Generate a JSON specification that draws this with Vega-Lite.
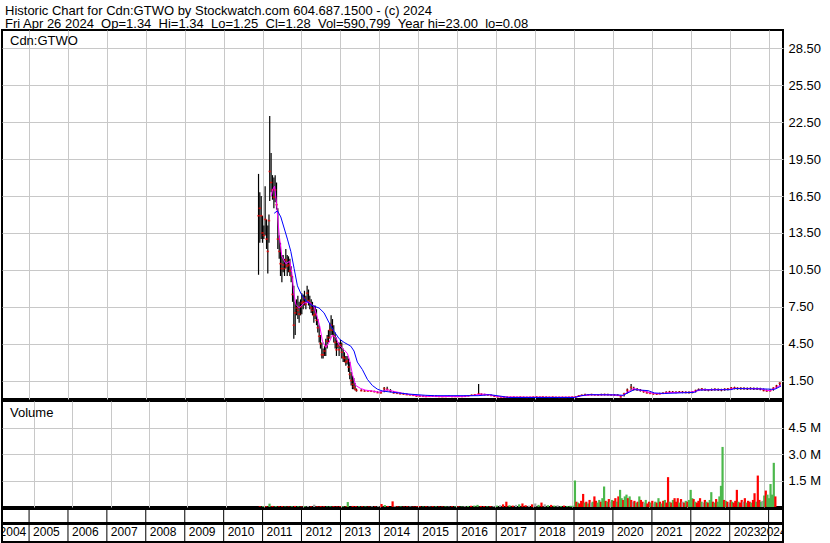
{
  "$schema": "https://vega.github.io/schema/vega-lite/v6.json",
  "padding": {"left": 0, "top": 4, "right": 0, "bottom": 0},
  "background": "white",
  "title": {
    "text": ["Historic Chart for Cdn:GTWO by Stockwatch.com 604.687.1500 - (c) 2024", "Fri Apr 26 2024 \u00a0Op=1.34 \u00a0Hi=1.34 \u00a0Lo=1.25 \u00a0Cl=1.28 \u00a0Vol=590,799 \u00a0Year hi=23.00 \u00a0lo=0.08"],
    "anchor": "start", "fontSize": 13, "fontWeight": "normal", "font": "Liberation Sans", "color": "black",
    "offset": -2, "dx": 3, "lineHeight": 13.5, "baseline": "top", "frame": "group"
  },
  "datasets": {
    "px": [
      {"d":"2010-11-24","h":18.3,"l":10.1,"c":14.9},
      {"d":"2010-12-06","h":16.8,"l":12.7,"c":15.5},
      {"d":"2010-12-19","h":16.5,"l":13.0,"c":14.9},
      {"d":"2010-12-31","h":14.9,"l":12.7,"c":13.5},
      {"d":"2011-01-13","h":14.1,"l":13.0,"c":13.3},
      {"d":"2011-01-25","h":17.3,"l":13.3,"c":14.6},
      {"d":"2011-02-07","h":14.6,"l":12.2,"c":13.0},
      {"d":"2011-02-19","h":14.1,"l":10.2,"c":12.0},
      {"d":"2011-03-02","h":15.0,"l":12.7,"c":14.5},
      {"d":"2011-03-09","h":23.0,"l":16.1,"c":18.5},
      {"d":"2011-03-22","h":20.0,"l":16.8,"c":17.6},
      {"d":"2011-04-04","h":18.2,"l":16.2,"c":17.0},
      {"d":"2011-04-17","h":18.0,"l":15.5,"c":16.4},
      {"d":"2011-04-29","h":18.2,"l":16.0,"c":17.0},
      {"d":"2011-05-12","h":17.6,"l":15.4,"c":15.8},
      {"d":"2011-05-24","h":15.5,"l":12.2,"c":13.0},
      {"d":"2011-06-06","h":13.3,"l":11.4,"c":12.0},
      {"d":"2011-06-18","h":12.7,"l":10.0,"c":11.0},
      {"d":"2011-07-01","h":11.7,"l":9.5,"c":10.6},
      {"d":"2011-07-13","h":11.7,"l":10.3,"c":10.9},
      {"d":"2011-07-26","h":11.4,"l":10.0,"c":10.6},
      {"d":"2011-08-07","h":12.2,"l":10.6,"c":11.3},
      {"d":"2011-08-20","h":11.7,"l":10.0,"c":10.8},
      {"d":"2011-09-01","h":11.6,"l":10.3,"c":10.9},
      {"d":"2011-09-14","h":11.4,"l":10.0,"c":10.4},
      {"d":"2011-09-26","h":10.8,"l":9.5,"c":10.0},
      {"d":"2011-10-09","h":10.0,"l":7.9,"c":8.5},
      {"d":"2011-10-21","h":9.2,"l":4.9,"c":6.0},
      {"d":"2011-11-03","h":7.9,"l":5.2,"c":7.0},
      {"d":"2011-11-15","h":8.1,"l":6.8,"c":7.4},
      {"d":"2011-11-28","h":8.4,"l":6.5,"c":7.2},
      {"d":"2011-12-10","h":7.9,"l":6.2,"c":6.9},
      {"d":"2011-12-23","h":8.1,"l":6.8,"c":7.5},
      {"d":"2012-01-04","h":8.6,"l":6.9,"c":7.8},
      {"d":"2012-01-17","h":8.5,"l":7.3,"c":7.9},
      {"d":"2012-01-29","h":8.8,"l":7.6,"c":8.2},
      {"d":"2012-02-11","h":8.4,"l":7.3,"c":7.7},
      {"d":"2012-02-23","h":9.2,"l":7.9,"c":8.6},
      {"d":"2012-03-07","h":8.9,"l":7.6,"c":8.0},
      {"d":"2012-03-19","h":8.4,"l":7.3,"c":7.8},
      {"d":"2012-04-01","h":8.1,"l":7.0,"c":7.4},
      {"d":"2012-04-13","h":7.9,"l":6.8,"c":7.2},
      {"d":"2012-04-26","h":7.6,"l":6.2,"c":6.8},
      {"d":"2012-05-08","h":7.6,"l":6.5,"c":6.9},
      {"d":"2012-05-21","h":7.3,"l":6.0,"c":6.4},
      {"d":"2012-06-02","h":6.5,"l":5.4,"c":5.8},
      {"d":"2012-06-15","h":6.0,"l":4.6,"c":5.1},
      {"d":"2012-06-27","h":5.2,"l":4.1,"c":4.5},
      {"d":"2012-07-10","h":4.6,"l":3.3,"c":3.6},
      {"d":"2012-07-22","h":4.1,"l":3.3,"c":3.6},
      {"d":"2012-08-04","h":4.3,"l":3.5,"c":3.9},
      {"d":"2012-08-16","h":4.9,"l":3.5,"c":4.3},
      {"d":"2012-08-29","h":5.2,"l":4.1,"c":4.7},
      {"d":"2012-09-10","h":5.6,"l":4.6,"c":5.0},
      {"d":"2012-09-23","h":6.2,"l":4.9,"c":5.6},
      {"d":"2012-10-05","h":6.8,"l":5.2,"c":6.0},
      {"d":"2012-10-18","h":6.5,"l":5.2,"c":5.6},
      {"d":"2012-10-30","h":6.0,"l":4.6,"c":5.1},
      {"d":"2012-11-12","h":5.4,"l":4.1,"c":4.6},
      {"d":"2012-11-24","h":5.0,"l":3.5,"c":4.0},
      {"d":"2012-12-07","h":4.6,"l":4.1,"c":4.3},
      {"d":"2012-12-19","h":4.6,"l":3.5,"c":4.0},
      {"d":"2013-01-01","h":4.8,"l":4.1,"c":4.4},
      {"d":"2013-01-13","h":4.6,"l":3.3,"c":3.8},
      {"d":"2013-01-26","h":4.1,"l":3.0,"c":3.4},
      {"d":"2013-02-07","h":3.8,"l":3.0,"c":3.3},
      {"d":"2013-02-20","h":3.5,"l":2.7,"c":3.0},
      {"d":"2013-03-04","h":3.5,"l":2.8,"c":3.1},
      {"d":"2013-03-17","h":3.3,"l":2.2,"c":2.6},
      {"d":"2013-03-29","h":3.0,"l":1.6,"c":2.0},
      {"d":"2013-04-11","h":2.2,"l":1.1,"c":1.5},
      {"d":"2013-04-23","h":1.9,"l":0.8,"c":1.2},
      {"d":"2013-05-06","h":1.7,"l":0.8,"c":1.0},
      {"d":"2013-05-18","h":1.3,"l":0.7,"c":0.8},
      {"d":"2013-05-31","h":0.85,"l":0.6,"c":0.7},
      {"d":"2013-07-15","h":0.8,"l":0.62,"c":0.68},
      {"d":"2013-08-15","h":0.72,"l":0.6,"c":0.65},
      {"d":"2013-09-15","h":0.7,"l":0.6,"c":0.64},
      {"d":"2013-10-15","h":0.7,"l":0.58,"c":0.63},
      {"d":"2013-11-15","h":0.68,"l":0.55,"c":0.6},
      {"d":"2013-12-15","h":0.62,"l":0.48,"c":0.52},
      {"d":"2014-01-15","h":0.6,"l":0.45,"c":0.5},
      {"d":"2014-02-15","h":0.98,"l":0.55,"c":0.85},
      {"d":"2014-03-15","h":1.0,"l":0.7,"c":0.78},
      {"d":"2014-04-15","h":0.8,"l":0.55,"c":0.62},
      {"d":"2014-05-15","h":0.65,"l":0.45,"c":0.5},
      {"d":"2014-06-15","h":0.55,"l":0.42,"c":0.46},
      {"d":"2014-07-15","h":0.52,"l":0.38,"c":0.42},
      {"d":"2014-08-15","h":0.5,"l":0.36,"c":0.4},
      {"d":"2014-09-15","h":0.45,"l":0.32,"c":0.35},
      {"d":"2014-10-15","h":0.4,"l":0.3,"c":0.33},
      {"d":"2014-11-15","h":0.38,"l":0.26,"c":0.3},
      {"d":"2014-12-15","h":0.35,"l":0.2,"c":0.24},
      {"d":"2015-01-15","h":0.3,"l":0.2,"c":0.24},
      {"d":"2015-02-15","h":0.28,"l":0.18,"c":0.22},
      {"d":"2015-03-15","h":0.26,"l":0.18,"c":0.2},
      {"d":"2015-04-15","h":0.28,"l":0.2,"c":0.22},
      {"d":"2015-05-15","h":0.3,"l":0.2,"c":0.24},
      {"d":"2015-06-15","h":0.28,"l":0.18,"c":0.22},
      {"d":"2015-07-15","h":0.25,"l":0.17,"c":0.2},
      {"d":"2015-08-15","h":0.24,"l":0.16,"c":0.19},
      {"d":"2015-09-15","h":0.25,"l":0.17,"c":0.2},
      {"d":"2015-10-15","h":0.27,"l":0.18,"c":0.22},
      {"d":"2015-11-15","h":0.25,"l":0.17,"c":0.2},
      {"d":"2015-12-15","h":0.25,"l":0.17,"c":0.2},
      {"d":"2016-01-15","h":0.24,"l":0.17,"c":0.21},
      {"d":"2016-02-15","h":0.24,"l":0.17,"c":0.2},
      {"d":"2016-03-15","h":0.27,"l":0.19,"c":0.22},
      {"d":"2016-04-15","h":0.3,"l":0.22,"c":0.26},
      {"d":"2016-05-15","h":0.36,"l":0.26,"c":0.3},
      {"d":"2016-06-15","h":0.4,"l":0.3,"c":0.34},
      {"d":"2016-07-20","h":1.22,"l":0.32,"c":0.42},
      {"d":"2016-08-15","h":0.45,"l":0.33,"c":0.38},
      {"d":"2016-09-15","h":0.42,"l":0.3,"c":0.35},
      {"d":"2016-10-15","h":0.4,"l":0.28,"c":0.33},
      {"d":"2016-11-15","h":0.36,"l":0.24,"c":0.28},
      {"d":"2016-12-15","h":0.3,"l":0.18,"c":0.22},
      {"d":"2017-01-15","h":0.25,"l":0.14,"c":0.18},
      {"d":"2017-02-15","h":0.22,"l":0.12,"c":0.16},
      {"d":"2017-03-15","h":0.2,"l":0.11,"c":0.15},
      {"d":"2017-04-15","h":0.2,"l":0.1,"c":0.14},
      {"d":"2017-05-15","h":0.19,"l":0.1,"c":0.14},
      {"d":"2017-06-15","h":0.2,"l":0.11,"c":0.15},
      {"d":"2017-07-15","h":0.19,"l":0.1,"c":0.14},
      {"d":"2017-08-15","h":0.2,"l":0.1,"c":0.15},
      {"d":"2017-09-15","h":0.19,"l":0.1,"c":0.14},
      {"d":"2017-10-15","h":0.18,"l":0.09,"c":0.13},
      {"d":"2017-11-15","h":0.19,"l":0.1,"c":0.14},
      {"d":"2017-12-15","h":0.2,"l":0.1,"c":0.15},
      {"d":"2018-01-15","h":0.22,"l":0.11,"c":0.16},
      {"d":"2018-02-15","h":0.2,"l":0.1,"c":0.15},
      {"d":"2018-03-15","h":0.22,"l":0.11,"c":0.16},
      {"d":"2018-04-15","h":0.2,"l":0.1,"c":0.15},
      {"d":"2018-05-15","h":0.19,"l":0.1,"c":0.14},
      {"d":"2018-06-15","h":0.2,"l":0.1,"c":0.15},
      {"d":"2018-07-15","h":0.19,"l":0.09,"c":0.14},
      {"d":"2018-08-15","h":0.18,"l":0.09,"c":0.13},
      {"d":"2018-09-15","h":0.19,"l":0.08,"c":0.13},
      {"d":"2018-10-15","h":0.18,"l":0.08,"c":0.13},
      {"d":"2018-11-15","h":0.19,"l":0.09,"c":0.14},
      {"d":"2018-12-15","h":0.2,"l":0.1,"c":0.15},
      {"d":"2019-01-15","h":0.22,"l":0.12,"c":0.18},
      {"d":"2019-02-15","h":0.3,"l":0.18,"c":0.26},
      {"d":"2019-03-15","h":0.36,"l":0.24,"c":0.3},
      {"d":"2019-04-15","h":0.42,"l":0.28,"c":0.35},
      {"d":"2019-05-15","h":0.4,"l":0.28,"c":0.34},
      {"d":"2019-06-15","h":0.42,"l":0.29,"c":0.36},
      {"d":"2019-07-15","h":0.41,"l":0.28,"c":0.34},
      {"d":"2019-08-15","h":0.4,"l":0.27,"c":0.33},
      {"d":"2019-09-15","h":0.42,"l":0.28,"c":0.35},
      {"d":"2019-10-15","h":0.43,"l":0.29,"c":0.36},
      {"d":"2019-11-15","h":0.42,"l":0.28,"c":0.35},
      {"d":"2019-12-15","h":0.4,"l":0.27,"c":0.34},
      {"d":"2020-01-15","h":0.4,"l":0.27,"c":0.33},
      {"d":"2020-02-15","h":0.38,"l":0.24,"c":0.3},
      {"d":"2020-03-15","h":0.3,"l":0.12,"c":0.18},
      {"d":"2020-04-15","h":0.5,"l":0.2,"c":0.42},
      {"d":"2020-05-15","h":0.85,"l":0.45,"c":0.72},
      {"d":"2020-06-20","h":1.22,"l":0.7,"c":0.95},
      {"d":"2020-07-15","h":1.0,"l":0.7,"c":0.82},
      {"d":"2020-08-15","h":0.9,"l":0.68,"c":0.76},
      {"d":"2020-09-15","h":0.82,"l":0.6,"c":0.7},
      {"d":"2020-10-15","h":0.72,"l":0.52,"c":0.6},
      {"d":"2020-11-15","h":0.62,"l":0.45,"c":0.5},
      {"d":"2020-12-15","h":0.55,"l":0.4,"c":0.45},
      {"d":"2021-01-15","h":0.5,"l":0.36,"c":0.42},
      {"d":"2021-02-15","h":0.48,"l":0.35,"c":0.4},
      {"d":"2021-03-15","h":0.5,"l":0.38,"c":0.42},
      {"d":"2021-04-15","h":0.55,"l":0.4,"c":0.46},
      {"d":"2021-05-15","h":0.62,"l":0.45,"c":0.52},
      {"d":"2021-06-15","h":0.66,"l":0.48,"c":0.56},
      {"d":"2021-07-15","h":0.65,"l":0.48,"c":0.55},
      {"d":"2021-08-15","h":0.64,"l":0.46,"c":0.54},
      {"d":"2021-09-15","h":0.66,"l":0.48,"c":0.56},
      {"d":"2021-10-15","h":0.65,"l":0.47,"c":0.55},
      {"d":"2021-11-15","h":0.64,"l":0.46,"c":0.53},
      {"d":"2021-12-15","h":0.62,"l":0.45,"c":0.52},
      {"d":"2022-01-15","h":0.63,"l":0.46,"c":0.54},
      {"d":"2022-02-15","h":0.75,"l":0.52,"c":0.68},
      {"d":"2022-03-15","h":0.85,"l":0.65,"c":0.76},
      {"d":"2022-04-15","h":0.9,"l":0.68,"c":0.8},
      {"d":"2022-05-15","h":0.85,"l":0.66,"c":0.74},
      {"d":"2022-06-15","h":0.82,"l":0.64,"c":0.72},
      {"d":"2022-07-15","h":0.85,"l":0.66,"c":0.75},
      {"d":"2022-08-15","h":0.88,"l":0.68,"c":0.78},
      {"d":"2022-09-15","h":0.86,"l":0.66,"c":0.76},
      {"d":"2022-10-15","h":0.84,"l":0.64,"c":0.74},
      {"d":"2022-11-15","h":0.88,"l":0.68,"c":0.78},
      {"d":"2022-12-15","h":0.9,"l":0.7,"c":0.8},
      {"d":"2023-01-15","h":0.98,"l":0.76,"c":0.88},
      {"d":"2023-02-15","h":1.0,"l":0.78,"c":0.9},
      {"d":"2023-03-15","h":0.95,"l":0.76,"c":0.86},
      {"d":"2023-04-15","h":0.96,"l":0.76,"c":0.86},
      {"d":"2023-05-15","h":0.95,"l":0.75,"c":0.85},
      {"d":"2023-06-15","h":0.94,"l":0.74,"c":0.84},
      {"d":"2023-07-15","h":0.95,"l":0.76,"c":0.85},
      {"d":"2023-08-15","h":0.94,"l":0.74,"c":0.84},
      {"d":"2023-09-15","h":0.93,"l":0.74,"c":0.83},
      {"d":"2023-10-15","h":0.92,"l":0.72,"c":0.82},
      {"d":"2023-11-15","h":0.85,"l":0.62,"c":0.7},
      {"d":"2023-12-15","h":0.78,"l":0.58,"c":0.66},
      {"d":"2024-01-15","h":0.8,"l":0.6,"c":0.68},
      {"d":"2024-02-15","h":0.95,"l":0.68,"c":0.88},
      {"d":"2024-03-15","h":1.15,"l":0.85,"c":1.05},
      {"d":"2024-04-15","h":1.36,"l":1.05,"c":1.28}
    ],
    "ma": [
      {"d":"2011-03-25","s":"m","v":16.5},
      {"d":"2011-04-04","s":"m","v":17.0},
      {"d":"2011-04-23","s":"m","v":17.3},
      {"d":"2011-05-11","s":"m","v":16.0},
      {"d":"2011-06-06","s":"m","v":13.3},
      {"d":"2011-07-01","s":"m","v":11.6},
      {"d":"2011-08-07","s":"m","v":11.0},
      {"d":"2011-09-13","s":"m","v":11.2},
      {"d":"2011-10-02","s":"m","v":10.3},
      {"d":"2011-10-21","s":"m","v":8.6},
      {"d":"2011-11-09","s":"m","v":7.7},
      {"d":"2011-12-10","s":"m","v":7.4},
      {"d":"2012-01-26","s":"m","v":7.8},
      {"d":"2012-03-13","s":"m","v":7.9},
      {"d":"2012-04-28","s":"m","v":7.5},
      {"d":"2012-05-30","s":"m","v":6.6},
      {"d":"2012-06-21","s":"m","v":5.9},
      {"d":"2012-07-16","s":"m","v":4.7},
      {"d":"2012-08-16","s":"m","v":4.2},
      {"d":"2012-09-16","s":"m","v":4.6},
      {"d":"2012-10-17","s":"m","v":5.2},
      {"d":"2012-11-18","s":"m","v":5.0},
      {"d":"2012-12-19","s":"m","v":4.4},
      {"d":"2013-02-04","s":"m","v":4.0},
      {"d":"2013-03-07","s":"m","v":3.7},
      {"d":"2013-03-29","s":"m","v":3.1},
      {"d":"2013-04-23","s":"m","v":2.0},
      {"d":"2013-05-24","s":"m","v":1.1},
      {"d":"2013-07-10","s":"m","v":0.85},
      {"d":"2013-08-25","s":"m","v":0.72},
      {"d":"2013-10-27","s":"m","v":0.65},
      {"d":"2013-12-28","s":"m","v":0.55},
      {"d":"2014-03-16","s":"m","v":0.75},
      {"d":"2014-05-01","s":"m","v":0.65},
      {"d":"2014-09-01","s":"m","v":0.42},
      {"d":"2014-12-01","s":"m","v":0.3},
      {"d":"2015-03-01","s":"m","v":0.22},
      {"d":"2015-06-01","s":"m","v":0.22},
      {"d":"2015-09-01","s":"m","v":0.2},
      {"d":"2015-12-01","s":"m","v":0.21},
      {"d":"2016-03-01","s":"m","v":0.21},
      {"d":"2016-06-01","s":"m","v":0.3},
      {"d":"2016-08-15","s":"m","v":0.4},
      {"d":"2016-10-15","s":"m","v":0.36},
      {"d":"2016-12-15","s":"m","v":0.26},
      {"d":"2017-02-15","s":"m","v":0.17},
      {"d":"2017-08-15","s":"m","v":0.15},
      {"d":"2018-06-15","s":"m","v":0.14},
      {"d":"2019-01-15","s":"m","v":0.15},
      {"d":"2019-03-15","s":"m","v":0.27},
      {"d":"2019-06-15","s":"m","v":0.34},
      {"d":"2019-12-15","s":"m","v":0.34},
      {"d":"2020-02-15","s":"m","v":0.3},
      {"d":"2020-03-25","s":"m","v":0.24},
      {"d":"2020-05-15","s":"m","v":0.55},
      {"d":"2020-07-15","s":"m","v":0.85},
      {"d":"2020-09-15","s":"m","v":0.72},
      {"d":"2020-12-15","s":"m","v":0.5},
      {"d":"2021-03-15","s":"m","v":0.42},
      {"d":"2021-06-15","s":"m","v":0.52},
      {"d":"2021-12-15","s":"m","v":0.54},
      {"d":"2022-02-15","s":"m","v":0.62},
      {"d":"2022-04-15","s":"m","v":0.76},
      {"d":"2022-12-15","s":"m","v":0.77},
      {"d":"2023-02-15","s":"m","v":0.86},
      {"d":"2023-10-15","s":"m","v":0.84},
      {"d":"2023-12-15","s":"m","v":0.7},
      {"d":"2024-01-20","s":"m","v":0.68},
      {"d":"2024-03-15","s":"m","v":0.95},
      {"d":"2024-04-26","s":"m","v":1.15},
      {"d":"2011-04-20","s":"b","v":15.1},
      {"d":"2011-05-21","s":"b","v":15.3},
      {"d":"2011-06-21","s":"b","v":14.8},
      {"d":"2011-07-22","s":"b","v":13.9},
      {"d":"2011-08-22","s":"b","v":13.0},
      {"d":"2011-09-23","s":"b","v":12.0},
      {"d":"2011-10-24","s":"b","v":10.6},
      {"d":"2011-11-24","s":"b","v":9.2},
      {"d":"2011-12-25","s":"b","v":8.6},
      {"d":"2012-02-09","s":"b","v":8.0},
      {"d":"2012-04-12","s":"b","v":7.6},
      {"d":"2012-06-14","s":"b","v":7.4},
      {"d":"2012-07-31","s":"b","v":7.0},
      {"d":"2012-09-16","s":"b","v":6.2},
      {"d":"2012-11-02","s":"b","v":5.5},
      {"d":"2012-12-19","s":"b","v":4.9},
      {"d":"2013-02-04","s":"b","v":4.6},
      {"d":"2013-04-07","s":"b","v":4.3},
      {"d":"2013-05-08","s":"b","v":3.9},
      {"d":"2013-06-08","s":"b","v":3.0},
      {"d":"2013-07-25","s":"b","v":2.4},
      {"d":"2013-09-10","s":"b","v":1.6},
      {"d":"2013-10-27","s":"b","v":1.1},
      {"d":"2013-12-13","s":"b","v":0.8},
      {"d":"2014-01-29","s":"b","v":0.65},
      {"d":"2014-05-01","s":"b","v":0.55},
      {"d":"2014-10-05","s":"b","v":0.4},
      {"d":"2015-03-12","s":"b","v":0.3},
      {"d":"2015-06-01","s":"b","v":0.27},
      {"d":"2016-07-15","s":"b","v":0.27},
      {"d":"2016-11-01","s":"b","v":0.35},
      {"d":"2017-02-20","s":"b","v":0.22},
      {"d":"2017-04-25","s":"b","v":0.12},
      {"d":"2019-01-05","s":"b","v":0.12},
      {"d":"2019-03-10","s":"b","v":0.27},
      {"d":"2019-05-15","s":"b","v":0.35},
      {"d":"2020-02-15","s":"b","v":0.33},
      {"d":"2020-04-05","s":"b","v":0.3},
      {"d":"2020-07-20","s":"b","v":0.76},
      {"d":"2020-11-25","s":"b","v":0.68},
      {"d":"2021-01-25","s":"b","v":0.49},
      {"d":"2021-04-30","s":"b","v":0.45},
      {"d":"2022-02-05","s":"b","v":0.54},
      {"d":"2022-03-08","s":"b","v":0.73},
      {"d":"2023-01-15","s":"b","v":0.76},
      {"d":"2023-02-15","s":"b","v":0.85},
      {"d":"2023-12-20","s":"b","v":0.81},
      {"d":"2024-02-25","s":"b","v":0.78},
      {"d":"2024-04-26","s":"b","v":1.05}
    ],
    "vol": [
      {"d":"2010-11-20","v":40000,"t":"d"},{"d":"2010-12-20","v":50000,"t":"u"},
      {"d":"2011-01-20","v":45000,"t":"d"},{"d":"2011-02-20","v":190000,"t":"u"},
      {"d":"2011-03-20","v":60000,"t":"d"},{"d":"2011-04-20","v":50000,"t":"u"},
      {"d":"2011-05-20","v":40000,"t":"d"},{"d":"2011-06-20","v":50000,"t":"d"},
      {"d":"2011-07-20","v":30000,"t":"u"},{"d":"2011-08-20","v":35000,"t":"d"},
      {"d":"2011-09-20","v":40000,"t":"u"},{"d":"2011-10-20","v":60000,"t":"d"},
      {"d":"2011-11-20","v":40000,"t":"u"},{"d":"2011-12-20","v":35000,"t":"d"},
      {"d":"2012-01-20","v":50000,"t":"u"},{"d":"2012-02-20","v":60000,"t":"n"},
      {"d":"2012-03-20","v":40000,"t":"d"},{"d":"2012-04-20","v":130000,"t":"n"},
      {"d":"2012-05-20","v":40000,"t":"d"},{"d":"2012-06-20","v":50000,"t":"d"},
      {"d":"2012-07-20","v":45000,"t":"d"},{"d":"2012-08-20","v":30000,"t":"u"},
      {"d":"2012-09-20","v":40000,"t":"u"},{"d":"2012-10-20","v":50000,"t":"d"},
      {"d":"2012-11-20","v":35000,"t":"d"},{"d":"2012-12-20","v":40000,"t":"d"},
      {"d":"2013-01-20","v":45000,"t":"u"},{"d":"2013-02-20","v":50000,"t":"d"},
      {"d":"2013-03-05","v":280000,"t":"u"},{"d":"2013-04-20","v":60000,"t":"d"},
      {"d":"2013-05-20","v":50000,"t":"d"},{"d":"2013-06-20","v":40000,"t":"u"},
      {"d":"2013-07-20","v":45000,"t":"d"},{"d":"2013-08-20","v":35000,"t":"u"},
      {"d":"2013-09-20","v":30000,"t":"d"},{"d":"2013-10-20","v":40000,"t":"n"},
      {"d":"2013-11-20","v":35000,"t":"d"},{"d":"2013-12-20","v":60000,"t":"n"},
      {"d":"2014-01-20","v":170000,"t":"d"},{"d":"2014-02-20","v":110000,"t":"u"},
      {"d":"2014-03-20","v":60000,"t":"d"},{"d":"2014-05-05","v":320000,"t":"d"},
      {"d":"2014-05-25","v":60000,"t":"n"},{"d":"2014-06-20","v":40000,"t":"d"},
      {"d":"2014-07-20","v":35000,"t":"u"},{"d":"2014-08-20","v":30000,"t":"d"},
      {"d":"2014-09-20","v":40000,"t":"d"},{"d":"2014-10-20","v":35000,"t":"n"},
      {"d":"2014-11-20","v":30000,"t":"d"},{"d":"2014-12-20","v":45000,"t":"d"},
      {"d":"2015-01-20","v":40000,"t":"d"},{"d":"2015-02-20","v":30000,"t":"u"},
      {"d":"2015-03-20","v":45000,"t":"d"},{"d":"2015-04-20","v":35000,"t":"n"},
      {"d":"2015-05-20","v":50000,"t":"d"},{"d":"2015-06-20","v":40000,"t":"u"},
      {"d":"2015-07-20","v":30000,"t":"d"},{"d":"2015-08-20","v":35000,"t":"d"},
      {"d":"2015-09-20","v":40000,"t":"u"},{"d":"2015-10-20","v":30000,"t":"n"},
      {"d":"2015-11-20","v":45000,"t":"d"},{"d":"2015-12-20","v":35000,"t":"u"},
      {"d":"2016-01-20","v":40000,"t":"d"},{"d":"2016-02-20","v":30000,"t":"u"},
      {"d":"2016-03-20","v":50000,"t":"n"},{"d":"2016-04-20","v":60000,"t":"u"},
      {"d":"2016-05-20","v":70000,"t":"d"},{"d":"2016-06-20","v":80000,"t":"u"},
      {"d":"2016-07-20","v":120000,"t":"u"},{"d":"2016-08-20","v":60000,"t":"d"},
      {"d":"2016-09-20","v":50000,"t":"d"},{"d":"2016-10-20","v":40000,"t":"u"},
      {"d":"2016-11-20","v":50000,"t":"d"},{"d":"2016-12-20","v":60000,"t":"n"},
      {"d":"2017-01-20","v":80000,"t":"u"},{"d":"2017-02-20","v":100000,"t":"n"},
      {"d":"2017-03-20","v":150000,"t":"d"},{"d":"2017-04-20","v":300000,"t":"d"},
      {"d":"2017-05-20","v":100000,"t":"u"},{"d":"2017-06-20","v":80000,"t":"d"},
      {"d":"2017-07-20","v":120000,"t":"n"},{"d":"2017-08-20","v":150000,"t":"u"},
      {"d":"2017-09-20","v":200000,"t":"d"},{"d":"2017-10-20","v":100000,"t":"d"},
      {"d":"2017-11-20","v":80000,"t":"n"},{"d":"2017-12-20","v":150000,"t":"d"},
      {"d":"2018-01-20","v":200000,"t":"n"},{"d":"2018-02-20","v":120000,"t":"u"},
      {"d":"2018-03-20","v":250000,"t":"d"},{"d":"2018-04-20","v":150000,"t":"n"},
      {"d":"2018-05-20","v":100000,"t":"u"},{"d":"2018-06-20","v":120000,"t":"d"},
      {"d":"2018-07-20","v":80000,"t":"u"},{"d":"2018-08-20","v":100000,"t":"n"},
      {"d":"2018-09-20","v":60000,"t":"u"},{"d":"2018-10-20","v":80000,"t":"d"},
      {"d":"2018-11-20","v":60000,"t":"u"},{"d":"2018-12-20","v":70000,"t":"u"},
      {"d":"2019-01-05","v":60000,"t":"u"},{"d":"2019-01-20","v":80000,"t":"n"},
      {"d":"2019-02-01","v":1500000,"t":"u"},{"d":"2019-02-15","v":300000,"t":"d"},
      {"d":"2019-03-01","v":250000,"t":"u"},{"d":"2019-03-15","v":200000,"t":"d"},
      {"d":"2019-04-01","v":350000,"t":"d"},{"d":"2019-04-20","v":740000,"t":"d"},
      {"d":"2019-05-05","v":250000,"t":"u"},{"d":"2019-05-20","v":300000,"t":"d"},
      {"d":"2019-06-05","v":200000,"t":"u"},{"d":"2019-06-20","v":400000,"t":"d"},
      {"d":"2019-07-05","v":250000,"t":"n"},{"d":"2019-07-20","v":300000,"t":"u"},
      {"d":"2019-08-05","v":600000,"t":"d"},{"d":"2019-08-20","v":350000,"t":"d"},
      {"d":"2019-09-05","v":250000,"t":"u"},{"d":"2019-09-20","v":400000,"t":"u"},
      {"d":"2019-10-05","v":300000,"t":"d"},{"d":"2019-10-20","v":500000,"t":"u"},
      {"d":"2019-11-05","v":1160000,"t":"u"},{"d":"2019-11-20","v":350000,"t":"d"},
      {"d":"2019-12-05","v":300000,"t":"u"},{"d":"2019-12-20","v":450000,"t":"d"},
      {"d":"2020-01-05","v":300000,"t":"n"},{"d":"2020-01-20","v":400000,"t":"u"},
      {"d":"2020-02-05","v":350000,"t":"d"},{"d":"2020-02-20","v":500000,"t":"d"},
      {"d":"2020-03-05","v":300000,"t":"u"},{"d":"2020-03-20","v":600000,"t":"d"},
      {"d":"2020-04-05","v":970000,"t":"u"},{"d":"2020-04-20","v":500000,"t":"u"},
      {"d":"2020-05-05","v":400000,"t":"d"},{"d":"2020-05-20","v":600000,"t":"u"},
      {"d":"2020-06-05","v":700000,"t":"u"},{"d":"2020-06-20","v":500000,"t":"d"},
      {"d":"2020-07-05","v":600000,"t":"u"},{"d":"2020-07-20","v":400000,"t":"d"},
      {"d":"2020-08-05","v":300000,"t":"n"},{"d":"2020-08-20","v":350000,"t":"d"},
      {"d":"2020-09-05","v":250000,"t":"u"},{"d":"2020-09-20","v":300000,"t":"d"},
      {"d":"2020-10-05","v":600000,"t":"u"},{"d":"2020-10-20","v":400000,"t":"d"},
      {"d":"2020-11-05","v":300000,"t":"d"},{"d":"2020-11-20","v":250000,"t":"n"},
      {"d":"2020-12-05","v":400000,"t":"u"},{"d":"2020-12-20","v":200000,"t":"d"},
      {"d":"2021-01-05","v":300000,"t":"d"},{"d":"2021-01-20","v":250000,"t":"u"},
      {"d":"2021-02-05","v":350000,"t":"d"},{"d":"2021-02-20","v":200000,"t":"n"},
      {"d":"2021-03-05","v":300000,"t":"u"},{"d":"2021-03-20","v":250000,"t":"d"},
      {"d":"2021-04-05","v":500000,"t":"u"},{"d":"2021-04-20","v":300000,"t":"d"},
      {"d":"2021-05-05","v":200000,"t":"u"},{"d":"2021-05-20","v":350000,"t":"d"},
      {"d":"2021-06-05","v":400000,"t":"u"},{"d":"2021-06-20","v":250000,"t":"d"},
      {"d":"2021-07-05","v":1690000,"t":"d"},{"d":"2021-07-20","v":300000,"t":"u"},
      {"d":"2021-08-05","v":250000,"t":"d"},{"d":"2021-08-20","v":400000,"t":"u"},
      {"d":"2021-09-05","v":500000,"t":"d"},{"d":"2021-09-20","v":300000,"t":"d"},
      {"d":"2021-10-05","v":500000,"t":"d"},{"d":"2021-10-20","v":250000,"t":"u"},
      {"d":"2021-11-05","v":450000,"t":"d"},{"d":"2021-11-20","v":300000,"t":"n"},
      {"d":"2021-12-05","v":250000,"t":"d"},{"d":"2021-12-20","v":350000,"t":"u"},
      {"d":"2022-01-05","v":300000,"t":"d"},{"d":"2022-01-20","v":400000,"t":"u"},
      {"d":"2022-02-05","v":970000,"t":"u"},{"d":"2022-02-20","v":500000,"t":"u"},
      {"d":"2022-03-05","v":450000,"t":"d"},{"d":"2022-03-20","v":300000,"t":"u"},
      {"d":"2022-04-05","v":250000,"t":"d"},{"d":"2022-04-20","v":350000,"t":"d"},
      {"d":"2022-05-05","v":500000,"t":"d"},{"d":"2022-05-20","v":300000,"t":"u"},
      {"d":"2022-06-05","v":250000,"t":"n"},{"d":"2022-06-20","v":400000,"t":"d"},
      {"d":"2022-07-05","v":300000,"t":"u"},{"d":"2022-07-20","v":250000,"t":"d"},
      {"d":"2022-08-05","v":400000,"t":"u"},{"d":"2022-08-20","v":840000,"t":"u"},
      {"d":"2022-09-05","v":300000,"t":"d"},{"d":"2022-09-20","v":250000,"t":"u"},
      {"d":"2022-10-05","v":450000,"t":"d"},{"d":"2022-10-20","v":300000,"t":"u"},
      {"d":"2022-11-05","v":600000,"t":"u"},{"d":"2022-11-20","v":1200000,"t":"u"},
      {"d":"2022-12-05","v":3400000,"t":"u"},{"d":"2022-12-20","v":400000,"t":"d"},
      {"d":"2023-01-05","v":350000,"t":"u"},{"d":"2023-01-20","v":300000,"t":"d"},
      {"d":"2023-02-05","v":250000,"t":"n"},{"d":"2023-02-20","v":400000,"t":"d"},
      {"d":"2023-03-05","v":300000,"t":"u"},{"d":"2023-03-20","v":250000,"t":"d"},
      {"d":"2023-04-05","v":350000,"t":"d"},{"d":"2023-04-20","v":970000,"t":"d"},
      {"d":"2023-05-05","v":300000,"t":"u"},{"d":"2023-05-20","v":250000,"t":"d"},
      {"d":"2023-06-05","v":400000,"t":"d"},{"d":"2023-06-20","v":300000,"t":"n"},
      {"d":"2023-07-05","v":500000,"t":"d"},{"d":"2023-07-20","v":250000,"t":"u"},
      {"d":"2023-08-05","v":350000,"t":"d"},{"d":"2023-08-20","v":300000,"t":"d"},
      {"d":"2023-09-05","v":250000,"t":"u"},{"d":"2023-09-20","v":400000,"t":"d"},
      {"d":"2023-10-05","v":780000,"t":"d"},{"d":"2023-10-20","v":300000,"t":"u"},
      {"d":"2023-11-05","v":1780000,"t":"d"},{"d":"2023-11-20","v":400000,"t":"d"},
      {"d":"2023-12-05","v":300000,"t":"u"},{"d":"2023-12-20","v":350000,"t":"n"},
      {"d":"2024-01-05","v":650000,"t":"u"},{"d":"2024-01-20","v":930000,"t":"d"},
      {"d":"2024-02-05","v":700000,"t":"u"},{"d":"2024-02-20","v":500000,"t":"u"},
      {"d":"2024-03-05","v":1300000,"t":"u"},{"d":"2024-03-20","v":700000,"t":"u"},
      {"d":"2024-04-05","v":2500000,"t":"u"},{"d":"2024-04-20","v":600000,"t":"d"}
    ],
    "years": [
      {"d":"2004-01-01","lab":"2004"},{"d":"2005-01-01","lab":"2005"},{"d":"2006-01-01","lab":"2006"},
      {"d":"2007-01-01","lab":"2007"},{"d":"2008-01-01","lab":"2008"},{"d":"2009-01-01","lab":"2009"},
      {"d":"2010-01-01","lab":"2010"},{"d":"2011-01-01","lab":"2011"},{"d":"2012-01-01","lab":"2012"},
      {"d":"2013-01-01","lab":"2013"},{"d":"2014-01-01","lab":"2014"},{"d":"2015-01-01","lab":"2015"},
      {"d":"2016-01-01","lab":"2016"},{"d":"2017-01-01","lab":"2017"},{"d":"2018-01-01","lab":"2018"},
      {"d":"2019-01-01","lab":"2019"},{"d":"2020-01-01","lab":"2020"},{"d":"2021-01-01","lab":"2021"},
      {"d":"2022-01-01","lab":"2022"},{"d":"2023-01-01","lab":"2023"},{"d":"2024-01-01","lab":"2024"}
    ]
  },
  "spacing": 0,
  "resolve": {"scale": {"color": "independent"}},
  "vconcat": [
    {
      "width": 781, "height": 369,
      "layer": [
        {
          "data": {"name": "px"},
          "mark": {"type": "rule", "color": "black", "strokeWidth": 1.2, "clip": true},
          "encoding": {
            "x": {"field": "d", "type": "temporal", "scale": {"domain": ["2004-04-22", "2024-05-15"]},
                  "axis": {"title": null, "labels": false, "ticks": false, "domain": false, "grid": true, "tickCount": {"interval": "year", "step": 1}}},
            "y": {"field": "l", "type": "quantitative", "scale": {"domain": [0, 30], "nice": false},
                  "axis": {"title": null, "orient": "right", "values": [1.5,3,4.5,6,7.5,9,10.5,12,13.5,15,16.5,18,19.5,21,22.5,24,25.5,27,28.5], "format": ".2f", "grid": true, "ticks": false, "domain": false, "labelPadding": 5}},
            "y2": {"field": "h"}
          }
        },
        {
          "data": {"name": "px"},
          "mark": {"type": "tick", "orient": "horizontal", "color": "#ff0000", "size": 2.5, "thickness": 1.6, "clip": true},
          "encoding": {
            "x": {"field": "d", "type": "temporal"},
            "y": {"field": "c", "type": "quantitative"}
          }
        },
        {
          "data": {"name": "ma"},
          "transform": [{"filter": "datum.s == 'm'"}],
          "mark": {"type": "line", "strokeWidth": 1, "color": "#ff00ff", "clip": true},
          "encoding": {
            "x": {"field": "d", "type": "temporal"},
            "y": {"field": "v", "type": "quantitative"}
          }
        },
        {
          "data": {"name": "ma"},
          "transform": [{"filter": "datum.s == 'b'"}],
          "mark": {"type": "line", "strokeWidth": 1, "color": "#0000ff", "clip": true},
          "encoding": {
            "x": {"field": "d", "type": "temporal"},
            "y": {"field": "v", "type": "quantitative"}
          }
        },
        {
          "data": {"values": [{}]},
          "mark": {"type": "text", "align": "left", "baseline": "alphabetic", "fontSize": 13, "font": "Liberation Sans", "color": "black", "dx": 8},
          "encoding": {
            "x": {"datum": "2004-04-22", "type": "temporal"},
            "y": {"datum": 28.8, "type": "quantitative"},
            "text": {"value": "Cdn:GTWO"}
          }
        }
      ]
    },
    {
      "spacing": 0,
      "resolve": {"scale": {"color": "independent"}},
      "vconcat": [
        {
          "width": 781, "height": 106,
          "layer": [
            {
              "data": {"name": "vol"},
              "mark": {"type": "bar", "size": 2.2, "clip": true},
              "encoding": {
                "x": {"field": "d", "type": "temporal", "scale": {"domain": ["2004-04-22", "2024-05-15"]},
                      "axis": {"title": null, "labels": false, "ticks": false, "domain": false, "grid": true, "tickCount": {"interval": "year", "step": 1}}},
                "y": {"field": "v", "type": "quantitative", "scale": {"domain": [0, 6000000], "nice": false},
                      "axis": {"title": null, "orient": "right", "values": [1500000, 3000000, 4500000], "labelExpr": "format(datum.value/1000000, '.1f') + ' M'", "grid": true, "ticks": false, "domain": false, "labelPadding": 5}},
                "color": {"field": "t", "type": "nominal", "scale": {"domain": ["u", "d", "n"], "range": ["#4cb84c", "#ff0000", "#a0a0a0"]}, "legend": null}
              }
            },
            {
              "data": {"values": [{}]},
              "mark": {"type": "text", "align": "left", "baseline": "alphabetic", "fontSize": 13, "font": "Liberation Sans", "color": "black", "dx": 8},
              "encoding": {
                "x": {"datum": "2004-04-22", "type": "temporal"},
                "y": {"datum": 5100000, "type": "quantitative"},
                "text": {"value": "Volume"}
              }
            }
          ]
        },
        {
          "width": 781, "height": 33,
          "data": {"name": "years"},
          "layer": [
            {
              "mark": {"type": "rule", "color": "black", "strokeWidth": 1, "clip": true},
              "encoding": {
                "x": {"field": "d", "type": "temporal", "scale": {"domain": ["2004-04-22", "2024-05-15"]}, "axis": null}
              }
            },
            {
              "mark": {"type": "rule", "color": "black", "strokeWidth": 1.3},
              "encoding": {
                "y": {"datum": 0.56, "type": "quantitative", "scale": {"domain": [0, 1], "nice": false}, "axis": null}
              }
            },
            {
              "transform": [{"filter": "datum.lab != '2004' && datum.lab != '2024'"}],
              "mark": {"type": "text", "align": "left", "baseline": "alphabetic", "fontSize": 12, "font": "Liberation Sans", "color": "black", "dx": 4, "clip": true},
              "encoding": {
                "x": {"field": "d", "type": "temporal"},
                "y": {"datum": 0.17, "type": "quantitative"},
                "text": {"field": "lab"}
              }
            },
            {
              "transform": [{"filter": "datum.lab == '2004'"}],
              "mark": {"type": "text", "align": "left", "baseline": "alphabetic", "fontSize": 12, "font": "Liberation Sans", "color": "black", "dx": 9.5, "clip": true},
              "encoding": {
                "x": {"field": "d", "type": "temporal"},
                "y": {"datum": 0.17, "type": "quantitative"},
                "text": {"field": "lab"}
              }
            },
            {
              "transform": [{"filter": "datum.lab == '2024'"}],
              "mark": {"type": "text", "align": "left", "baseline": "alphabetic", "fontSize": 12, "font": "Liberation Sans", "color": "black", "dx": -8.6, "clip": true},
              "encoding": {
                "x": {"field": "d", "type": "temporal"},
                "y": {"datum": 0.17, "type": "quantitative"},
                "text": {"field": "lab"}
              }
            }
          ]
        }
      ]
    }
  ],
  "config": {
    "font": "Liberation Sans",
    "view": {"stroke": "black", "strokeWidth": 2},
    "axis": {"labelFont": "Liberation Sans", "labelFontSize": 13, "labelColor": "black", "gridColor": "#c8c8c8", "gridWidth": 1, "domain": false, "ticks": false}
  }
}
